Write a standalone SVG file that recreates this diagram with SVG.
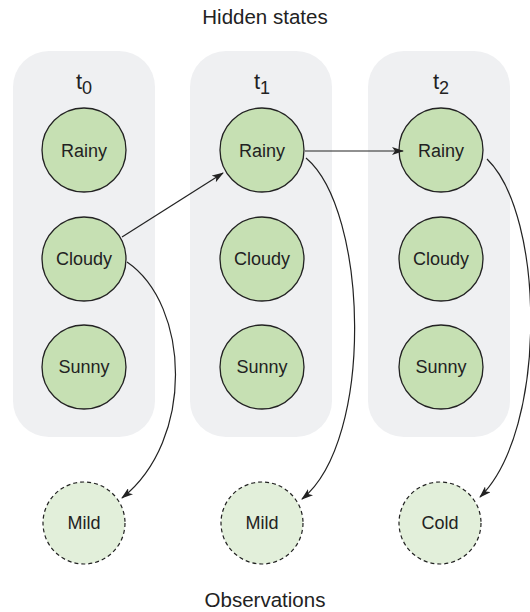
<svg xmlns="http://www.w3.org/2000/svg" width="530" height="612" viewBox="0 0 530 612">
<style>
text{font-family:"Liberation Sans",Arial,sans-serif;fill:#222;text-anchor:middle}
.panel{fill:#eff0f2}
.st{fill:#c6e0b3;stroke:#222;stroke-width:1.3}
.ob{fill:#e2efda;stroke:#222;stroke-width:1.2;stroke-dasharray:4 3}
.lbl{font-size:18px}
.ttl{font-size:20.5px}
.conn path{fill:none;stroke:#222;stroke-width:1.2;marker-end:url(#ah)}
</style>
<defs>
<marker id="ah" markerWidth="12" markerHeight="8" refX="11" refY="4" orient="auto" markerUnits="userSpaceOnUse">
<path d="M0,0 L12,4 L0,8 L3,4 Z" fill="#222"/>
</marker>
</defs>
<rect width="530" height="612" fill="#fff"/>
<text class="ttl" x="265" y="24">Hidden states</text>
<text class="ttl" x="265" y="607">Observations</text>
<g id="panel0"><rect class="panel" x="13" y="51" width="142" height="386" rx="36"/><text x="84" y="89" font-size="22">t<tspan font-size="18" dy="5">0</tspan></text></g>
<g id="panel1"><rect class="panel" x="190" y="51" width="142" height="386" rx="36"/><text x="262" y="89" font-size="22">t<tspan font-size="18" dy="5">1</tspan></text></g>
<g id="panel2"><rect class="panel" x="368" y="51" width="142" height="386" rx="36"/><text x="441" y="89" font-size="22">t<tspan font-size="18" dy="5">2</tspan></text></g>
<g id="rainy0"><circle class="st" cx="84" cy="150" r="42"/><text class="lbl" x="84" y="157">Rainy</text></g>
<g id="cloudy0"><circle class="st" cx="84" cy="259" r="42"/><text class="lbl" x="84" y="265">Cloudy</text></g>
<g id="sunny0"><circle class="st" cx="84" cy="367" r="42"/><text class="lbl" x="84" y="373">Sunny</text></g>
<g id="rainy1"><circle class="st" cx="262" cy="150" r="42"/><text class="lbl" x="262" y="157">Rainy</text></g>
<g id="cloudy1"><circle class="st" cx="262" cy="259" r="42"/><text class="lbl" x="262" y="265">Cloudy</text></g>
<g id="sunny1"><circle class="st" cx="262" cy="367" r="42"/><text class="lbl" x="262" y="373">Sunny</text></g>
<g id="rainy2"><circle class="st" cx="441" cy="150" r="42"/><text class="lbl" x="441" y="157">Rainy</text></g>
<g id="cloudy2"><circle class="st" cx="441" cy="259" r="42"/><text class="lbl" x="441" y="265">Cloudy</text></g>
<g id="sunny2"><circle class="st" cx="441" cy="367" r="42"/><text class="lbl" x="441" y="373">Sunny</text></g>
<g id="obs0"><circle class="ob" cx="84" cy="523" r="41"/><text class="lbl" x="84" y="529">Mild</text></g>
<g id="obs1"><circle class="ob" cx="262" cy="523" r="41"/><text class="lbl" x="262" y="529">Mild</text></g>
<g id="obs2"><circle class="ob" cx="440" cy="523" r="41"/><text class="lbl" x="440" y="529">Cold</text></g>
<g class="conn" id="connectors">
<path d="M122,237 L223,173"/>
<path d="M305,151 L403,151"/>
<path d="M127,262 C190,305 195,440 122,498"/>
<path d="M306,158 C368,210 375,440 302,499"/>
<path d="M487,159 C545,215 548,430 480,497"/>
</g>
</svg>
